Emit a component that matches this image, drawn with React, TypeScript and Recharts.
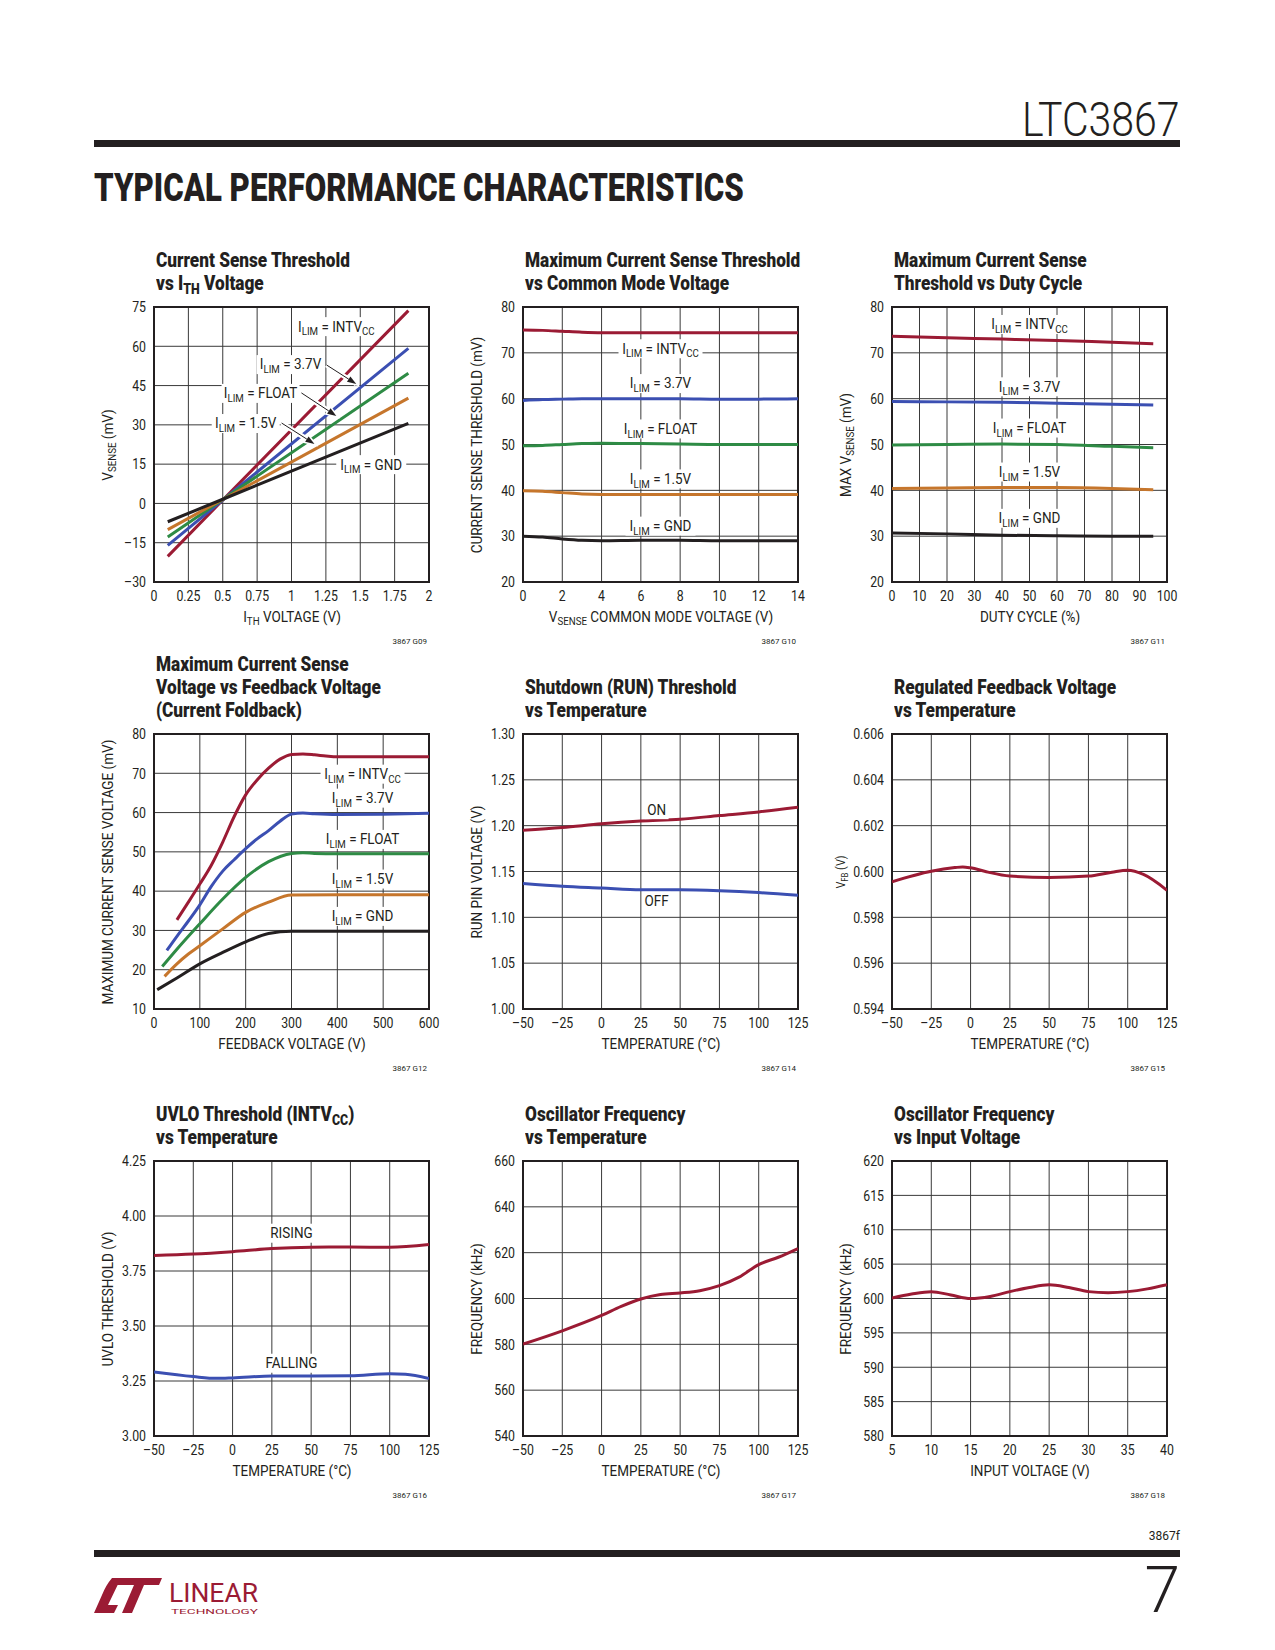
import React, { useLayoutEffect, useRef, useState } from "react";
import {
  LineChart,
  Line,
  XAxis,
  YAxis,
  CartesianGrid,
  ReferenceArea,
  ReferenceDot,
  ReferenceLine,
} from "recharts";

const FONT = 'Roboto, "Liberation Sans", sans-serif';
const INK = "#231f20";
const GRID = "#3a3a3a";
const RED = "#9b1b34";
const BLUE = "#3b4fb2";
const GREEN = "#2e8b45";
const ORANGE = "#c6762c";
const BLACK = "#231f20";

/* ---- G09: current sense threshold vs ITH ---- */
const g09X = [0.1, 0.5, 1.85];
const g09Intvcc = [-20.2, 1.3, 73.6];
const g09V37 = [-16, 1.3, 59.2];
const g09Float = [-12.8, 1.5, 49.7];
const g09V15 = [-10, 1.5, 40.2];
const g09Gnd = [-7, 1.6, 30.6];
const g09XTicks = [0, 0.25, 0.5, 0.75, 1, 1.25, 1.5, 1.75, 2];
const g09YTicks = [-30, -15, 0, 15, 30, 45, 60, 75];

/* ---- G10: max threshold vs common mode ---- */
const g10X = [0, 1, 2, 3, 4, 6, 8, 10, 12, 14];
const g10Intvcc = [75.0, 74.9, 74.7, 74.5, 74.4, 74.4, 74.4, 74.4, 74.4, 74.4];
const g10V37 = [59.6, 59.8, 59.9, 60.0, 60.0, 60.0, 60.0, 59.9, 59.9, 60.0];
const g10Float = [49.7, 49.8, 50.0, 50.2, 50.3, 50.2, 50.1, 50.0, 50.0, 50.0];
const g10V15 = [39.9, 39.8, 39.5, 39.2, 39.1, 39.1, 39.1, 39.1, 39.1, 39.1];
const g10Gnd = [30.0, 29.8, 29.4, 29.1, 29.0, 29.1, 29.1, 29.0, 29.0, 29.0];
const g10XTicks = [0, 2, 4, 6, 8, 10, 12, 14];
const sense20to80 = [20, 30, 40, 50, 60, 70, 80];

/* ---- G11: max threshold vs duty cycle ---- */
const g11X = [0, 20, 40, 60, 80, 95];
const g11Intvcc = [73.6, 73.3, 73.0, 72.7, 72.3, 72.0];
const g11V37 = [59.4, 59.3, 59.2, 59.0, 58.8, 58.6];
const g11Float = [49.9, 50.0, 50.1, 50.0, 49.6, 49.3];
const g11V15 = [40.4, 40.5, 40.6, 40.6, 40.4, 40.1];
const g11Gnd = [30.7, 30.5, 30.2, 30.1, 30.0, 30.0];
const g11XTicks = [0, 10, 20, 30, 40, 50, 60, 70, 80, 90, 100];

/* ---- G12: current foldback ---- */
const g12IntvccX = [50, 75, 100, 125, 150, 175, 200, 225, 250, 275, 300, 325, 350, 375, 400, 500, 600];
const g12Intvcc = [32.7, 37.2, 41.8, 46.6, 52.5, 59.0, 64.5, 68.3, 71.3, 73.6, 74.8, 74.9, 74.7, 74.4, 74.2, 74.2, 74.2];
const g12V37X = [28, 50, 75, 100, 125, 150, 175, 200, 225, 250, 275, 300, 325, 350, 400, 500, 600];
const g12V37 = [24.9, 28.5, 32.4, 36.5, 41.2, 45.1, 48.0, 50.8, 53.3, 55.4, 57.8, 59.6, 59.9, 59.7, 59.5, 59.6, 59.8];
const g12FloatX = [18, 50, 100, 150, 200, 250, 300, 325, 350, 400, 600];
const g12Float = [20.8, 25.2, 31.7, 38.0, 43.5, 47.5, 49.6, 49.8, 49.6, 49.5, 49.5];
const g12V15X = [23, 50, 75, 100, 150, 200, 250, 300, 400, 600];
const g12V15 = [18.3, 21.5, 24.0, 26.1, 30.4, 34.6, 37.2, 39.0, 39.1, 39.1];
const g12GndX = [7, 50, 100, 150, 200, 250, 300, 400, 600];
const g12Gnd = [14.9, 17.9, 21.5, 24.4, 27.1, 29.2, 29.8, 29.8, 29.8];
const g12XTicks = [0, 100, 200, 300, 400, 500, 600];
const g12YTicks = [10, 20, 30, 40, 50, 60, 70, 80];

/* ---- temperature axes ---- */
const tempX = [-50, -25, 0, 25, 50, 75, 100, 125];
const tempTicks = [-50, -25, 0, 25, 50, 75, 100, 125];

/* ---- G14: RUN threshold ---- */
const g14On = [1.195, 1.198, 1.202, 1.205, 1.207, 1.211, 1.215, 1.22];
const g14Off = [1.137, 1.134, 1.132, 1.13, 1.13, 1.129, 1.127, 1.124];
const g14YTicks = [1.0, 1.05, 1.1, 1.15, 1.2, 1.25, 1.3];

/* ---- G15: regulated feedback ---- */
const g15X = [-50, -25, -10, -5, 0, 10, 25, 50, 75, 90, 100, 110, 125];
const g15Vfb = [0.59955, 0.60001, 0.60017, 0.6002, 0.60016, 0.59999, 0.5998, 0.59974, 0.5998, 0.59997, 0.60005, 0.59987, 0.59918];
const g15YTicks = [0.594, 0.596, 0.598, 0.6, 0.602, 0.604, 0.606];

/* ---- G16: UVLO ---- */
const g16Rising = [3.821, 3.827, 3.838, 3.852, 3.858, 3.859, 3.858, 3.87];
const g16FallingX = [-50, -25, -10, 0, 25, 50, 75, 100, 110, 125];
const g16Falling = [3.291, 3.27, 3.262, 3.264, 3.273, 3.273, 3.274, 3.283, 3.281, 3.261];
const g16YTicks = [3.0, 3.25, 3.5, 3.75, 4.0, 4.25];

/* ---- G17: oscillator vs temperature ---- */
const g17X = [-50, -25, 0, 12.5, 25, 37.5, 50, 62.5, 75, 87.5, 100, 112.5, 125];
const g17Freq = [580.1, 585.9, 592.6, 596.6, 599.8, 601.7, 602.4, 603.4, 605.6, 609.3, 614.8, 618.0, 621.8];
const g17YTicks = [540, 560, 580, 600, 620, 640, 660];

/* ---- G18: oscillator vs VIN ---- */
const g18X = [5, 7.5, 10, 12.5, 15, 17.5, 20, 22.5, 25, 27.5, 30, 32.5, 35, 37.5, 40];
const g18Freq = [600.07, 600.65, 601.0, 600.5, 600.0, 600.3, 601.0, 601.6, 602.0, 601.6, 601.0, 600.85, 601.0, 601.4, 602.0];
const g18XTicks = [5, 10, 15, 20, 25, 30, 35, 40];
const g18YTicks = [580, 585, 590, 595, 600, 605, 610, 615, 620];

/* ---- types & helpers ---- */
type Seg = { t: string; sub?: boolean };
type Series = { xs: number[]; ys: number[]; color: string };
type Note = { x: number; y: number; segs: Seg[]; w: number };
type Arrow = { from: [number, number]; to: [number, number] };

const txt = (t: string): Seg[] => [{ t }];
const ilim = (rest: string, sub?: string): Seg[] => [
  { t: "I" },
  { t: "LIM", sub: true },
  { t: " = " + rest },
  ...(sub ? [{ t: sub, sub: true }] : []),
];
const pts = (xs: number[], ys: number[]) => xs.map((x, i) => ({ x, y: ys[i] }));
const fmtNum = (v: number) => (v < 0 ? "\u2013" + Math.abs(v) : String(v));
const fix = (d: number) => (v: number) => v.toFixed(d);

const PLOT = 275;
const YW = 60;
const RM = 22;
const TM = 12;
const XH = 30;
const TICK_SX = 0.82; // narrow the face, the sheet uses a condensed one
const TEXT_SX = 0.9;

// squeeze a one-line text to a set width (no condensed face installed)
function FitText({
  width,
  origin,
  style,
  children,
}: {
  width: number;
  origin: "left" | "right";
  style: React.CSSProperties;
  children: React.ReactNode;
}) {
  const ref = useRef<HTMLDivElement>(null);
  const [sx, setSx] = useState(1);
  useLayoutEffect(() => {
    const el = ref.current;
    if (el) {
      const w = el.scrollWidth;
      if (w > 0) setSx(width / w);
    }
  }, [width]);
  return (
    <div
      ref={ref}
      style={{
        position: "absolute",
        whiteSpace: "nowrap",
        transform: `scaleX(${sx})`,
        transformOrigin: origin + " center",
        ...style,
      }}
    >
      {children}
    </div>
  );
}

function Rich({ segs }: { segs: Seg[] }) {
  return (
    <>
      {segs.map((s, i) =>
        s.sub ? (
          <span key={i} style={{ fontSize: "0.72em", position: "relative", top: "0.3em", lineHeight: 0 }}>
            {s.t}
          </span>
        ) : (
          <span key={i}>{s.t}</span>
        )
      )}
    </>
  );
}

function svgSegs(segs: Seg[], size: number) {
  let prev = false;
  return segs.map((s, i) => {
    const sub = !!s.sub;
    const dy = sub && !prev ? size * 0.25 : !sub && prev ? -size * 0.25 : 0;
    prev = sub;
    return (
      <tspan key={i} dy={dy} fontSize={sub ? size * 0.72 : size}>
        {s.t}
      </tspan>
    );
  });
}

function NoteLabel({ cx, cy, segs, w }: { cx: number; cy: number; segs: Seg[]; w: number }) {
  const size = 15;
  return (
    <g>
      <rect x={cx - w / 2} y={cy - 9} width={w} height={19} fill="#fff" />
      <text
        transform={`translate(${cx},${cy + size * 0.36}) scale(${TEXT_SX},1)`}
        textAnchor="middle"
        fontFamily={FONT}
        fontSize={size}
        fill={INK}
      >
        {svgSegs(segs, size)}
      </text>
    </g>
  );
}

function ArrowShape(p: any) {
  const { x1, y1, x2, y2 } = p;
  const a = Math.atan2(y2 - y1, x2 - x1);
  const L = 9;
  const s = 3.2;
  const bx = x2 - L * Math.cos(a);
  const by = y2 - L * Math.sin(a);
  const head = `${x2},${y2} ${bx + s * Math.sin(a)},${by - s * Math.cos(a)} ${bx - s * Math.sin(a)},${by + s * Math.cos(a)}`;
  return (
    <g>
      <line x1={x1} y1={y1} x2={x2} y2={y2} stroke="#fff" strokeWidth={5} />
      <polygon points={head} fill="#fff" stroke="#fff" strokeWidth={3} />
      <line x1={x1} y1={y1} x2={bx} y2={by} stroke={INK} strokeWidth={1} />
      <polygon points={head} fill={INK} />
    </g>
  );
}

function makeTick(fmt: (v: number) => string, axis: "x" | "y") {
  return (props: any) => {
    const { x, y, payload } = props;
    return (
      <text
        transform={`translate(${x},${y}) scale(${TICK_SX},1)`}
        textAnchor={axis === "x" ? "middle" : "end"}
        dy={axis === "x" ? "0.71em" : "0.355em"}
        fontSize={15}
        fontFamily={FONT}
        fill={INK}
      >
        {fmt(payload.value)}
      </text>
    );
  };
}

type PanelProps = {
  left: number;
  top: number;
  title: Seg[][];
  code: string;
  xTitle: Seg[];
  yTitle: Seg[];
  yTitleSize?: number;
  yTitleOffset?: number;
  xDomain: [number, number];
  yDomain: [number, number];
  xTicks: number[];
  yTicks: number[];
  xFmt?: (v: number) => string;
  yFmt?: (v: number) => string;
  series: Series[];
  notes?: Note[];
  arrows?: Arrow[];
  curve?: "monotone" | "linear";
};

function Panel(p: PanelProps) {
  const W = YW + PLOT + RM;
  const H = TM + PLOT + XH;
  const n = p.title.length;
  const ycx = p.left - (p.yTitleOffset ?? 46);
  return (
    <>
      <div
        style={{
          position: "absolute",
          left: p.left + 2,
          top: p.top - 35.5 - (n - 1) * 23,
          fontWeight: 900,
          fontSize: 20,
          lineHeight: "23px",
          whiteSpace: "nowrap",
          transform: "scaleX(0.86)",
          transformOrigin: "left top",
        }}
      >
        {p.title.map((l, i) => (
          <div key={i}>
            <Rich segs={l} />
          </div>
        ))}
      </div>
      <div style={{ position: "absolute", left: p.left - YW, top: p.top - TM }}>
        <LineChart width={W} height={H} margin={{ top: TM, right: RM, left: 0, bottom: 0 }}>
          <CartesianGrid stroke={GRID} strokeWidth={1} />
          <XAxis
            type="number"
            dataKey="x"
            domain={p.xDomain}
            ticks={p.xTicks}
            interval={0}
            height={XH}
            tickLine={false}
            axisLine={false}
            tick={makeTick(p.xFmt ?? fmtNum, "x")}
            allowDataOverflow
          />
          <YAxis
            type="number"
            dataKey="y"
            domain={p.yDomain}
            ticks={p.yTicks}
            interval={0}
            width={YW}
            tickLine={false}
            axisLine={false}
            tick={makeTick(p.yFmt ?? fmtNum, "y")}
            allowDataOverflow
          />
          <ReferenceArea
            x1={p.xDomain[0]}
            x2={p.xDomain[1]}
            y1={p.yDomain[0]}
            y2={p.yDomain[1]}
            fill="none"
            fillOpacity={0}
            stroke={INK}
            strokeWidth={2}
          />
          {p.series.map((s, i) => (
            <Line
              key={i}
              data={pts(s.xs, s.ys)}
              dataKey="y"
              type={p.curve ?? "monotone"}
              stroke={s.color}
              strokeWidth={3}
              dot={false}
              isAnimationActive={false}
            />
          ))}
          {(p.arrows ?? []).map((a, i) => (
            <ReferenceLine
              key={"a" + i}
              segment={[
                { x: a.from[0], y: a.from[1] },
                { x: a.to[0], y: a.to[1] },
              ]}
              ifOverflow="visible"
              shape={(sp: any) => <ArrowShape {...sp} />}
            />
          ))}
          {(p.notes ?? []).map((nt, i) => (
            <ReferenceDot
              key={"n" + i}
              x={nt.x}
              y={nt.y}
              r={0}
              ifOverflow="visible"
              shape={(dp: any) => <NoteLabel cx={dp.cx} cy={dp.cy} segs={nt.segs} w={nt.w} />}
            />
          ))}
        </LineChart>
      </div>
      <div
        style={{
          position: "absolute",
          left: p.left + PLOT / 2 - 200,
          top: p.top + PLOT + 35 - 10,
          width: 400,
          textAlign: "center",
          fontSize: 15,
          lineHeight: "20px",
          transform: `scaleX(${TEXT_SX})`,
        }}
      >
        <Rich segs={p.xTitle} />
      </div>
      <div
        style={{
          position: "absolute",
          left: ycx - 200,
          top: p.top + PLOT / 2 - 10,
          width: 400,
          textAlign: "center",
          fontSize: p.yTitleSize ?? 15,
          lineHeight: "20px",
          transform: `rotate(-90deg) scaleX(${TEXT_SX})`,
        }}
      >
        <Rich segs={p.yTitle} />
      </div>
      <div
        style={{
          position: "absolute",
          left: p.left + PLOT - 102,
          top: p.top + PLOT + 60 - 6,
          width: 100,
          textAlign: "right",
          fontSize: 8,
          lineHeight: "12px",
        }}
      >
        {p.code}
      </div>
    </>
  );
}

const fiveLines = (xs: number[], a: number[], b: number[], c: number[], d: number[], e: number[]): Series[] => [
  { xs, ys: a, color: RED },
  { xs, ys: b, color: BLUE },
  { xs, ys: c, color: GREEN },
  { xs, ys: d, color: ORANGE },
  { xs, ys: e, color: BLACK },
];

function Logo() {
  return (
    <svg width={172} height={44} style={{ position: "absolute", left: 92, top: 1573 }} viewBox="0 0 172 44">
      <path d="M2 40 L22 40 L26 32 L16 32 L29 5 L20 5 Q14 12 10 22 Z" fill={RED} />
      <path d="M26 5 L70 5 L67 12 L52 12 L40 40 L30 40 L42 12 L23 12 Z" fill={RED} />
      <text x={77} y={29} fontFamily={FONT} fontSize={26} fill={RED} textLength={89} lengthAdjust="spacingAndGlyphs">
        LINEAR
      </text>
      <text x={79} y={41} fontFamily={FONT} fontSize={8} fill={RED} textLength={87} lengthAdjust="spacingAndGlyphs">
        TECHNOLOGY
      </text>
    </svg>
  );
}

export default function App() {
  const tempTitle = txt("TEMPERATURE (\u00b0C)");
  return (
    <div
      style={{
        position: "absolute",
        left: 0,
        top: 0,
        width: 1275,
        height: 1650,
        background: "#fff",
        fontFamily: FONT,
        color: INK,
      }}
    >
      <FitText
        width={158}
        origin="right"
        style={{ right: 95, top: 92, fontSize: 48, fontWeight: 300, lineHeight: "56px" }}
      >
        LTC3867
      </FitText>
      <div style={{ position: "absolute", left: 94, top: 140, width: 1086, height: 7, background: INK }} />
      <FitText
        width={650}
        origin="left"
        style={{ left: 94, top: 166, fontSize: 39, fontWeight: 900, lineHeight: "44px" }}
      >
        TYPICAL PERFORMANCE CHARACTERISTICS
      </FitText>

      <Panel
        left={154}
        top={307}
        title={[txt("Current Sense Threshold"), [{ t: "vs I" }, { t: "TH", sub: true }, { t: " Voltage" }]]}
        code="3867 G09"
        xTitle={[{ t: "I" }, { t: "TH", sub: true }, { t: " VOLTAGE (V)" }]}
        yTitle={[{ t: "V" }, { t: "SENSE", sub: true }, { t: " (mV)" }]}
        xDomain={[0, 2]}
        yDomain={[-30, 75]}
        xTicks={g09XTicks}
        yTicks={g09YTicks}
        curve="linear"
        series={fiveLines(g09X, g09Intvcc, g09V37, g09Float, g09V15, g09Gnd)}
        arrows={[
          { from: [1.254, 52.9], to: [1.471, 45.6] },
          { from: [1.072, 42.2], to: [1.326, 33.4] },
          { from: [0.928, 30.7], to: [1.167, 22.7] },
        ]}
        notes={[
          { x: 1.326, y: 67.7, segs: ilim("INTV", "CC"), w: 84 },
          { x: 0.993, y: 53.2, segs: ilim("3.7V"), w: 68 },
          { x: 0.775, y: 42.2, segs: ilim("FLOAT"), w: 78 },
          { x: 0.667, y: 30.7, segs: ilim("1.5V"), w: 68 },
          { x: 1.58, y: 15.0, segs: ilim("GND"), w: 70 },
        ]}
      />

      <Panel
        left={523}
        top={307}
        title={[txt("Maximum Current Sense Threshold"), txt("vs Common Mode Voltage")]}
        code="3867 G10"
        xTitle={[{ t: "V" }, { t: "SENSE", sub: true }, { t: " COMMON MODE VOLTAGE (V)" }]}
        yTitle={txt("CURRENT SENSE THRESHOLD (mV)")}
        xDomain={[0, 14]}
        yDomain={[20, 80]}
        xTicks={g10XTicks}
        yTicks={sense20to80}
        series={fiveLines(g10X, g10Intvcc, g10V37, g10Float, g10V15, g10Gnd)}
        notes={[
          { x: 7, y: 71.0, segs: ilim("INTV", "CC"), w: 84 },
          { x: 7, y: 63.4, segs: ilim("3.7V"), w: 68 },
          { x: 7, y: 53.5, segs: ilim("FLOAT"), w: 78 },
          { x: 7, y: 42.6, segs: ilim("1.5V"), w: 68 },
          { x: 7, y: 32.3, segs: ilim("GND"), w: 70 },
        ]}
      />

      <Panel
        left={892}
        top={307}
        title={[txt("Maximum Current Sense"), txt("Threshold vs Duty Cycle")]}
        code="3867 G11"
        xTitle={txt("DUTY CYCLE (%)")}
        yTitle={[{ t: "MAX V" }, { t: "SENSE", sub: true }, { t: " (mV)" }]}
        xDomain={[0, 100]}
        yDomain={[20, 80]}
        xTicks={g11XTicks}
        yTicks={sense20to80}
        series={fiveLines(g11X, g11Intvcc, g11V37, g11Float, g11V15, g11Gnd)}
        notes={[
          { x: 50, y: 76.3, segs: ilim("INTV", "CC"), w: 84 },
          { x: 50, y: 62.7, segs: ilim("3.7V"), w: 68 },
          { x: 50, y: 53.7, segs: ilim("FLOAT"), w: 78 },
          { x: 50, y: 44.1, segs: ilim("1.5V"), w: 68 },
          { x: 50, y: 34.0, segs: ilim("GND"), w: 70 },
        ]}
      />

      <Panel
        left={154}
        top={734}
        title={[txt("Maximum Current Sense"), txt("Voltage vs Feedback Voltage"), txt("(Current Foldback)")]}
        code="3867 G12"
        xTitle={txt("FEEDBACK VOLTAGE (V)")}
        yTitle={txt("MAXIMUM CURRENT SENSE VOLTAGE (mV)")}
        xDomain={[0, 600]}
        yDomain={[10, 80]}
        xTicks={g12XTicks}
        yTicks={g12YTicks}
        series={[
          { xs: g12IntvccX, ys: g12Intvcc, color: RED },
          { xs: g12V37X, ys: g12V37, color: BLUE },
          { xs: g12FloatX, ys: g12Float, color: GREEN },
          { xs: g12V15X, ys: g12V15, color: ORANGE },
          { xs: g12GndX, ys: g12Gnd, color: BLACK },
        ]}
        notes={[
          { x: 455, y: 69.9, segs: ilim("INTV", "CC"), w: 84 },
          { x: 455, y: 63.8, segs: ilim("3.7V"), w: 68 },
          { x: 455, y: 53.3, segs: ilim("FLOAT"), w: 78 },
          { x: 455, y: 43.2, segs: ilim("1.5V"), w: 68 },
          { x: 455, y: 33.7, segs: ilim("GND"), w: 70 },
        ]}
      />

      <Panel
        left={523}
        top={734}
        title={[txt("Shutdown (RUN) Threshold"), txt("vs Temperature")]}
        code="3867 G14"
        xTitle={tempTitle}
        yTitle={txt("RUN PIN VOLTAGE (V)")}
        xDomain={[-50, 125]}
        yDomain={[1.0, 1.3]}
        xTicks={tempTicks}
        yTicks={g14YTicks}
        yFmt={fix(2)}
        series={[
          { xs: tempX, ys: g14On, color: RED },
          { xs: tempX, ys: g14Off, color: BLUE },
        ]}
        notes={[
          { x: 35, y: 1.218, segs: txt("ON"), w: 24 },
          { x: 35, y: 1.118, segs: txt("OFF"), w: 28 },
        ]}
      />

      <Panel
        left={892}
        top={734}
        title={[txt("Regulated Feedback Voltage"), txt("vs Temperature")]}
        code="3867 G15"
        xTitle={tempTitle}
        yTitle={[{ t: "V" }, { t: "FB", sub: true }, { t: " (V)" }]}
        yTitleSize={12}
        yTitleOffset={51}
        xDomain={[-50, 125]}
        yDomain={[0.594, 0.606]}
        xTicks={tempTicks}
        yTicks={g15YTicks}
        yFmt={fix(3)}
        series={[{ xs: g15X, ys: g15Vfb, color: RED }]}
      />

      <Panel
        left={154}
        top={1161}
        title={[[{ t: "UVLO Threshold (INTV" }, { t: "CC", sub: true }, { t: ")" }], txt("vs Temperature")]}
        code="3867 G16"
        xTitle={tempTitle}
        yTitle={txt("UVLO THRESHOLD (V)")}
        xDomain={[-50, 125]}
        yDomain={[3.0, 4.25]}
        xTicks={tempTicks}
        yTicks={g16YTicks}
        yFmt={fix(2)}
        series={[
          { xs: tempX, ys: g16Rising, color: RED },
          { xs: g16FallingX, ys: g16Falling, color: BLUE },
        ]}
        notes={[
          { x: 37.5, y: 3.924, segs: txt("RISING"), w: 46 },
          { x: 37.5, y: 3.333, segs: txt("FALLING"), w: 54 },
        ]}
      />

      <Panel
        left={523}
        top={1161}
        title={[txt("Oscillator Frequency"), txt("vs Temperature")]}
        code="3867 G17"
        xTitle={tempTitle}
        yTitle={txt("FREQUENCY (kHz)")}
        xDomain={[-50, 125]}
        yDomain={[540, 660]}
        xTicks={tempTicks}
        yTicks={g17YTicks}
        series={[{ xs: g17X, ys: g17Freq, color: RED }]}
      />

      <Panel
        left={892}
        top={1161}
        title={[txt("Oscillator Frequency"), txt("vs Input Voltage")]}
        code="3867 G18"
        xTitle={txt("INPUT VOLTAGE (V)")}
        yTitle={txt("FREQUENCY (kHz)")}
        xDomain={[5, 40]}
        yDomain={[580, 620]}
        xTicks={g18XTicks}
        yTicks={g18YTicks}
        series={[{ xs: g18X, ys: g18Freq, color: RED }]}
      />

      <div style={{ position: "absolute", right: 95, top: 1528, fontSize: 12, lineHeight: "16px" }}>3867f</div>
      <div style={{ position: "absolute", left: 94, top: 1550, width: 1086, height: 7, background: INK }} />
      <div style={{ position: "absolute", right: 95, top: 1551, fontSize: 64, lineHeight: "80px", fontWeight: 300 }}>
        7
      </div>
      <Logo />
    </div>
  );
}
